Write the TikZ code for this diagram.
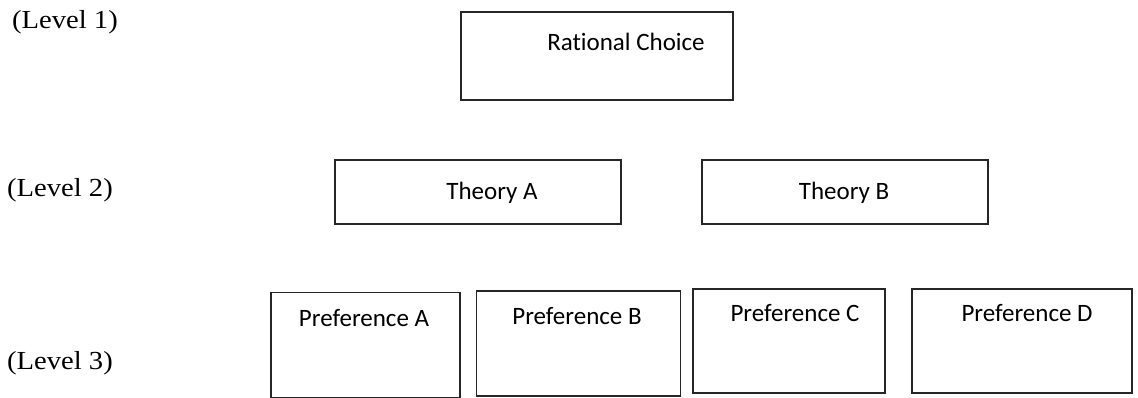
\documentclass[tikz,border=0pt]{standalone}
\usepackage{fontspec}
\setmainfont{Liberation Serif}
\newfontfamily\levelfont[FakeStretch=1.1]{Liberation Serif}
\newfontfamily\boxfont[Ligatures={NoCommon}]{Carlito}
\tikzset{
  box/.style={draw=black!85, line width=1.4pt, rectangle, inner sep=0pt, fill=white},
  boxtext/.style={font=\boxfont\fontsize{25}{29}\selectfont, inner sep=0pt, anchor=base},
  leveltext/.style={font=\levelfont\fontsize{26}{30}\selectfont, inner sep=0pt, anchor=base west}
}
\begin{document}
\begin{tikzpicture}[x=1pt,y=-1pt]
\useasboundingbox[fill=white] (0,0) rectangle (1138,398);
% level labels
\node[leveltext] (l1) at (12,29) {(Level 1)};
\node[leveltext] (l2) at (7,197) {(Level 2)};
\node[leveltext] (l3) at (7,369) {(Level 3)};
% level 1
\node[box, minimum width=272pt, minimum height=88pt] (rc) at (597,56) {};
\node[boxtext] (rct) at (626,51) {Rational Choice};
% level 2
\node[box, minimum width=286pt, minimum height=64pt] (ta) at (478,192) {};
\node[boxtext] (tat) at (492,200) {Theory A};
\node[box, minimum width=286pt, minimum height=64pt] (tb) at (845,192) {};
\node[boxtext] (tbt) at (844,200) {Theory B};
% level 3
\node[box, minimum width=189pt, minimum height=105pt] (pa) at (365.5,345) {};
\node[boxtext] (pat) at (364,326) {Preference A};
\node[box, minimum width=204pt, minimum height=105pt] (pb) at (578.5,343.5) {};
\node[boxtext] (pbt) at (577,324) {Preference B};
\node[box, minimum width=192pt, minimum height=104pt] (pc) at (789,341) {};
\node[boxtext] (pct) at (795,321) {Preference C};
\node[box, minimum width=220pt, minimum height=104pt] (pd) at (1022,341) {};
\node[boxtext] (pdt) at (1027,321) {Preference D};
\end{tikzpicture}
\end{document}
